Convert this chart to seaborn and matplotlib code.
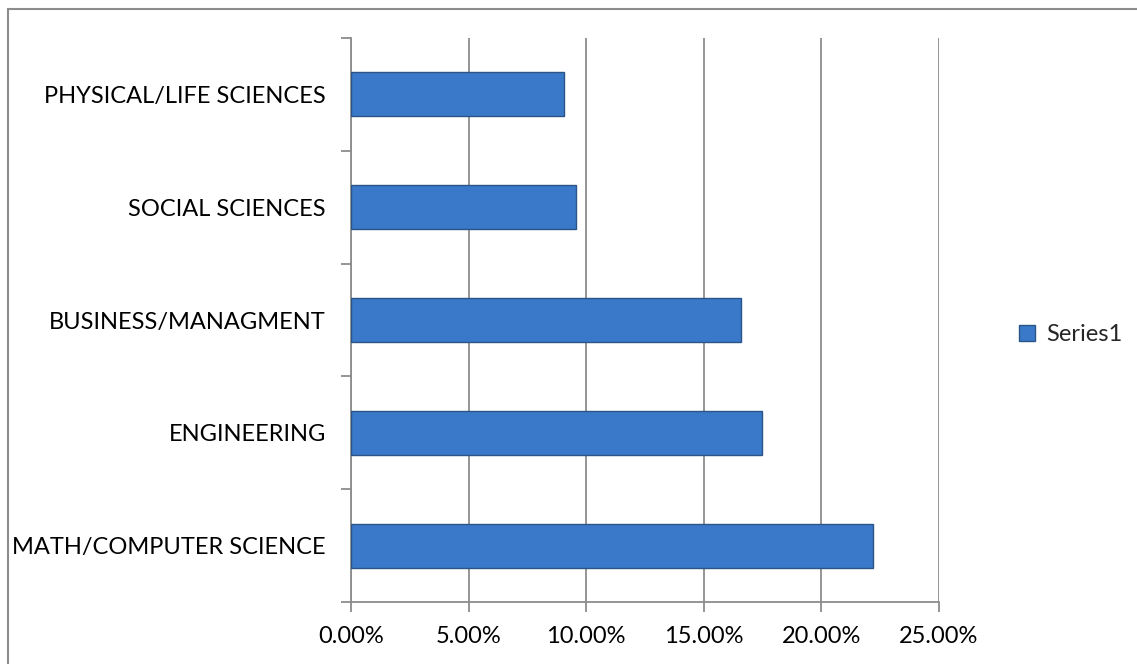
import matplotlib
matplotlib.use("Agg")
import matplotlib.pyplot as plt
import seaborn as sns
import pandas as pd
import numpy as np
from matplotlib.lines import Line2D
from matplotlib.ticker import PercentFormatter, FixedLocator

categories = ["PHYSICAL/LIFE SCIENCES", "SOCIAL SCIENCES", "BUSINESS/MANAGMENT",
              "ENGINEERING", "MATH/COMPUTER SCIENCE"]
values = [9.06, 9.57, 16.58, 17.48, 22.19]
series_name = "Series1"
x_ticks = [0, 5, 10, 15, 20, 25]

sns.set_theme(style="white")
plt.rcParams['font.family'] = ['Lato', 'DejaVu Sans']

df = pd.DataFrame({"category": categories, "value": values})

fig = plt.figure(figsize=(11.37, 6.64), dpi=100)
ax = fig.add_axes([351/1137, 1 - 602/664, (939 - 351)/1137, (602 - 38)/664])

sns.barplot(data=df, y="category", x="value", orient="h", color="#3A78C9",
            saturation=1, width=0.39, edgecolor="#2A5586", linewidth=1.0,
            ax=ax, zorder=3)

ax.set_xlim(0, 25)
ax.set_ylim(len(categories) - 0.5, -0.5)
ax.xaxis.set_major_locator(FixedLocator(x_ticks))
ax.xaxis.set_major_formatter(PercentFormatter(decimals=2))
ax.grid(axis="x", color="#8C8C8C", linewidth=1.3, zorder=0)
ax.grid(axis="y", visible=False)
ax.set_xlabel("")
ax.set_ylabel("")

for s in ["top", "right"]:
    ax.spines[s].set_visible(False)
for s in ["left", "bottom"]:
    ax.spines[s].set_color("#8C8C8C")
    ax.spines[s].set_linewidth(1.3)

ax.tick_params(axis="x", which="major", direction="out", length=7, width=1.3,
               color="#8C8C8C", labelsize=17, pad=10, bottom=True, labelcolor="black")
ax.tick_params(axis="y", which="major", length=0, labelsize=17, pad=18, labelcolor="black")
ax.yaxis.set_minor_locator(FixedLocator(np.arange(-0.5, len(categories), 1.0)))
ax.tick_params(axis="y", which="minor", direction="out", length=7, width=1.3,
               color="#8C8C8C", left=True)

handle = Line2D([], [], marker="s", linestyle="none", markersize=12,
                markerfacecolor="#3A78C9", markeredgecolor="#2A5586")
fig.legend([handle], [series_name], loc="center left",
           bbox_to_anchor=(1018/1137, 1 - 335/664), frameon=False,
           fontsize=17, handlelength=0.8, handletextpad=0.4, borderaxespad=0,
           borderpad=0)

fig.add_artist(Line2D([8/1137, 1], [1 - 9/664, 1 - 9/664], transform=fig.transFigure,
                      color="#8C8C8C", linewidth=1.5))
fig.add_artist(Line2D([8/1137, 8/1137], [0, 1 - 9/664], transform=fig.transFigure,
                      color="#8C8C8C", linewidth=1.5))

fig.savefig("out.png", dpi=100, facecolor="white")
